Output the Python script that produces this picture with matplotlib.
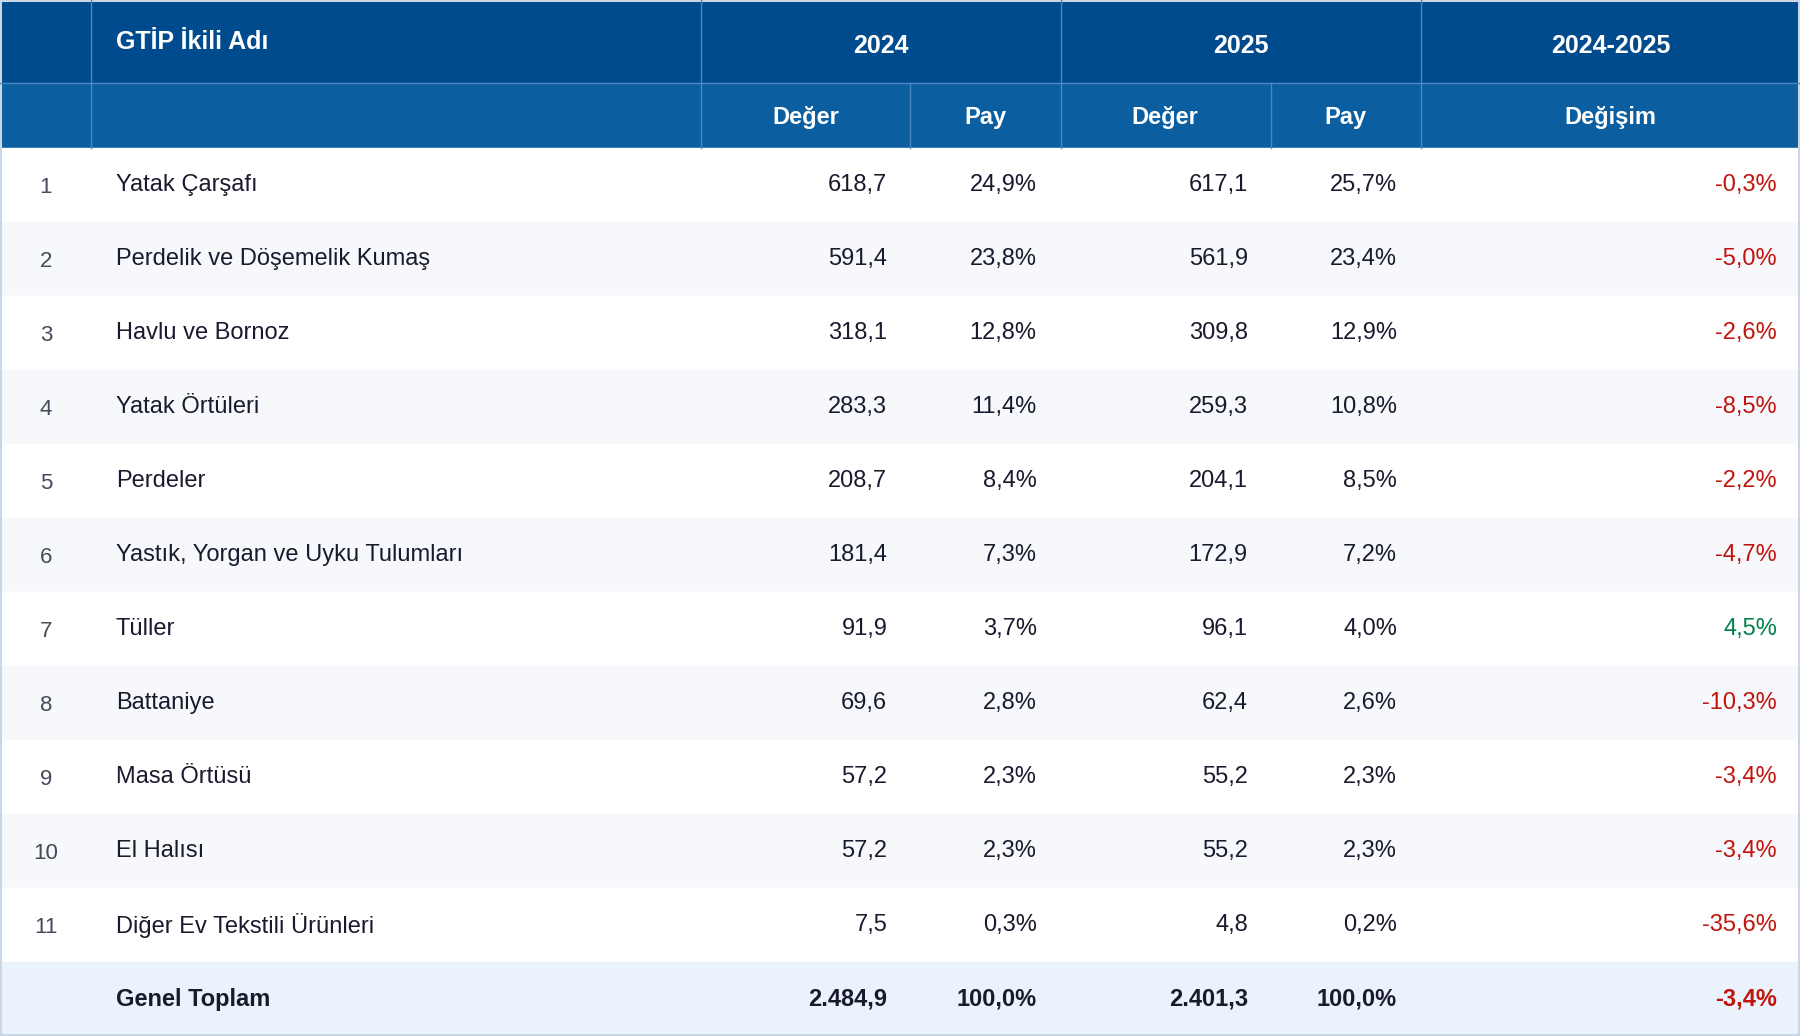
import matplotlib
matplotlib.use("Agg")
import matplotlib.pyplot as plt
from matplotlib.patches import Rectangle

plt.rcParams["font.family"] = ["Liberation Sans", "DejaVu Sans"]

names = ["Yatak Çarşafı", "Perdelik ve Döşemelik Kumaş", "Havlu ve Bornoz",
         "Yatak Örtüleri", "Perdeler", "Yastık, Yorgan ve Uyku Tulumları",
         "Tüller", "Battaniye", "Masa Örtüsü", "El Halısı",
         "Diğer Ev Tekstili Ürünleri"]
val_2024 = ["618,7", "591,4", "318,1", "283,3", "208,7", "181,4", "91,9",
            "69,6", "57,2", "57,2", "7,5"]
pay_2024 = ["24,9%", "23,8%", "12,8%", "11,4%", "8,4%", "7,3%", "3,7%",
            "2,8%", "2,3%", "2,3%", "0,3%"]
val_2025 = ["617,1", "561,9", "309,8", "259,3", "204,1", "172,9", "96,1",
            "62,4", "55,2", "55,2", "4,8"]
pay_2025 = ["25,7%", "23,4%", "12,9%", "10,8%", "8,5%", "7,2%", "4,0%",
            "2,6%", "2,3%", "2,3%", "0,2%"]
change = [-0.3, -5.0, -2.6, -8.5, -2.2, -4.7, 4.5, -10.3, -3.4, -3.4, -35.6]
total = ["2.484,9", "100,0%", "2.401,3", "100,0%"]
total_change = -3.4

W, H = 1568, 902
fig = plt.figure(figsize=(18, 10.36), dpi=100)
ax = fig.add_axes([0, 0, 1, 1])
ax.set_xlim(0, W)
ax.set_ylim(H, 0)
ax.axis("off")

dark = "#004b8d"
mid = "#0b5fa1"
red = "#c0140c"
green = "#00804a"
txt = "#1a1a2e"
fs = 17

ax.add_patch(Rectangle((0, 0), W, 72, color=dark))
ax.add_patch(Rectangle((0, 72), W, 57, color=mid))

# header separators
for x in [79, 611, 924, 1238]:
    ax.plot([x, x], [0, 129], color="#4a86bf", lw=1)
for x in [793, 1107]:
    ax.plot([x, x], [72, 129], color="#4a86bf", lw=1)
ax.plot([0, W], [72, 72], color="#4a86bf", lw=1)

ax.text(101, 37, "GTİP İkili Adı", color="white", fontsize=fs + 1,
        fontweight="bold", va="center", ha="left")
for xc, t in [(767, "2024"), (1081, "2025"), (1403, "2024-2025")]:
    ax.text(xc, 40, t, color="white", fontsize=fs + 1, fontweight="bold",
            va="center", ha="center")
for xc, t in [(702, "Değer"), (858, "Pay"), (1015, "Değer"), (1172, "Pay"),
              (1403, "Değişim")]:
    ax.text(xc, 102, t, color="white", fontsize=fs, fontweight="bold",
            va="center", ha="center")

top = 129
rh = (838 - 129) / len(names)
cols_r = [773, 903, 1087, 1217]

def fmt(v):
    return ("%.1f%%" % v).replace(".", ",")

for i, n in enumerate(names):
    y0 = top + i * rh
    ax.add_patch(Rectangle((0, y0), W, rh,
                           color="white" if i % 2 == 0 else "#f6f8fb"))
    yc = y0 + rh / 2
    ax.text(40, yc + 2, str(i + 1), color="#444a5a", fontsize=fs - 1,
            ha="center", va="center")
    ax.text(101, yc, n, color=txt, fontsize=fs, ha="left", va="center")
    for x, v in zip(cols_r, [val_2024[i], pay_2024[i], val_2025[i], pay_2025[i]]):
        ax.text(x, yc, v, color=txt, fontsize=fs, ha="right", va="center")
    ax.text(1548, yc, fmt(change[i]), color=green if change[i] > 0 else red,
            fontsize=fs, ha="right", va="center")

y0 = 838
ax.add_patch(Rectangle((0, y0), W, H - y0, color="#eaf3fb"))
yc = y0 + (H - y0) / 2
ax.text(101, yc, "Genel Toplam", color=txt, fontsize=fs, fontweight="bold",
        ha="left", va="center")
for x, v in zip(cols_r, total):
    ax.text(x, yc, v, color=txt, fontsize=fs, fontweight="bold",
            ha="right", va="center")
ax.text(1548, yc, fmt(total_change), color=red, fontsize=fs,
        fontweight="bold", ha="right", va="center")

ax.add_patch(Rectangle((0.5, 0.5), W - 1, H - 1, fill=False,
                       edgecolor="#c9d6e6", lw=1.5))

fig.savefig("out.png", dpi=100)
